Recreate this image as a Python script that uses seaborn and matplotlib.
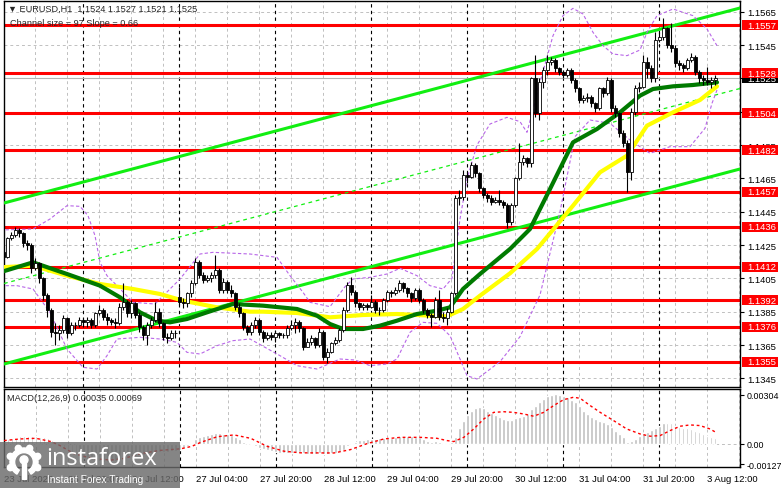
import numpy as np
import pandas as pd
import seaborn as sns
import matplotlib.pyplot as plt
from matplotlib.patches import Rectangle, Circle, Wedge
from matplotlib.transforms import blended_transform_factory

sns.set_style("white")
plt.rcParams["font.family"] = ["Liberation Sans", "DejaVu Sans"]

# EURUSD H1 bars, bar 0 = 23 Jul 04:00, bar 44 = Monday 27 Jul 00:00 (gap open)
first_open = 1.1421
monday_open = 1.1394
closes = [1.1418, 1.1429, 1.1431, 1.1434, 1.1432, 1.1426, 1.1425, 1.1411, 1.1414, 1.1405,
          1.1395, 1.1386, 1.1373, 1.1372, 1.1374, 1.1381, 1.1372, 1.1377, 1.1377, 1.1380,
          1.1379, 1.1380, 1.1377, 1.1384, 1.1386, 1.1382, 1.1380, 1.1379, 1.1378, 1.1388,
          1.1391, 1.1384, 1.1390, 1.1383, 1.1376, 1.1371, 1.1377, 1.1380, 1.1385, 1.1378,
          1.1370, 1.1369, 1.1372, 1.1372, 1.1391, 1.1390, 1.1396, 1.1402, 1.1415, 1.1407,
          1.1404, 1.1405, 1.1407, 1.1410, 1.1398, 1.1403, 1.1398, 1.1396, 1.1388, 1.1384,
          1.1376, 1.1373, 1.1377, 1.1380, 1.1373, 1.1369, 1.1371, 1.1370, 1.1372, 1.1371,
          1.1371, 1.1375, 1.1377, 1.1379, 1.1375, 1.1364, 1.1367, 1.1369, 1.1365, 1.1373,
          1.1358, 1.1361, 1.1366, 1.1368, 1.1374, 1.1386, 1.1401, 1.1397, 1.1390, 1.1388,
          1.1389, 1.1388, 1.1391, 1.1386, 1.1386, 1.1392, 1.1397, 1.1396, 1.1398, 1.1402,
          1.1399, 1.1396, 1.1393, 1.1398, 1.1392, 1.1386, 1.1383, 1.1382, 1.1392, 1.1382,
          1.1381, 1.1385, 1.1396, 1.1453, 1.1454, 1.1467, 1.1466, 1.1473, 1.1468, 1.1459,
          1.1455, 1.1453, 1.1451, 1.1452, 1.1451, 1.1449, 1.1439, 1.1449, 1.1465, 1.1475,
          1.1477, 1.1474, 1.1525, 1.1504, 1.1523, 1.1530, 1.1535, 1.1536, 1.1531, 1.1529,
          1.1527, 1.1530, 1.1524, 1.1519, 1.1512, 1.1513, 1.1514, 1.1510, 1.1507, 1.1519,
          1.1516, 1.1524, 1.1507, 1.1504, 1.1492, 1.1486, 1.1469, 1.1505, 1.1519, 1.1520,
          1.1535, 1.1531, 1.1525, 1.1548, 1.1550, 1.1555, 1.1545, 1.1543, 1.1534, 1.1533,
          1.1531, 1.1536, 1.1538, 1.1529, 1.1525, 1.1524, 1.1523, 1.1524, 1.1525]
highs = [1.1423, 1.1430, 1.1433, 1.1436, 1.1435, 1.1433, 1.1428, 1.1426, 1.1417, 1.1415,
         1.1406, 1.1396, 1.1387, 1.1378, 1.1377, 1.1383, 1.1382, 1.1379, 1.1379, 1.1382,
         1.1381, 1.1382, 1.1381, 1.1385, 1.1389, 1.1387, 1.1384, 1.1381, 1.1381, 1.1390,
         1.1402, 1.1392, 1.1392, 1.1391, 1.1385, 1.1377, 1.1379, 1.1382, 1.1391, 1.1387,
         1.1379, 1.1372, 1.1374, 1.1374, 1.1400, 1.1393, 1.1397, 1.1404, 1.1417, 1.1416,
         1.1409, 1.1407, 1.1409, 1.1419, 1.1411, 1.1405, 1.1404, 1.1401, 1.1397, 1.1390,
         1.1385, 1.1377, 1.1379, 1.1382, 1.1381, 1.1374, 1.1373, 1.1373, 1.1374, 1.1373,
         1.1372, 1.1377, 1.1380, 1.1381, 1.1380, 1.1376, 1.1369, 1.1371, 1.1370, 1.1375,
         1.1374, 1.1363, 1.1367, 1.1370, 1.1375, 1.1388, 1.1403, 1.1406, 1.1398, 1.1391,
         1.1390, 1.1390, 1.1395, 1.1392, 1.1388, 1.1393, 1.1398, 1.1398, 1.1400, 1.1404,
         1.1403, 1.1400, 1.1397, 1.1399, 1.1399, 1.1393, 1.1387, 1.1384, 1.1394, 1.1398,
         1.1385, 1.1387, 1.1397, 1.1455, 1.1458, 1.1470, 1.1469, 1.1475, 1.1474, 1.1469,
         1.1460, 1.1456, 1.1455, 1.1454, 1.1458, 1.1452, 1.1450, 1.1450, 1.1466, 1.1486,
         1.1479, 1.1478, 1.1526, 1.1539, 1.1525, 1.1532, 1.1539, 1.1538, 1.1537, 1.1532,
         1.1530, 1.1531, 1.1531, 1.1525, 1.1520, 1.1515, 1.1516, 1.1515, 1.1511, 1.1520,
         1.1520, 1.1526, 1.1525, 1.1509, 1.1505, 1.1494, 1.1488, 1.1507, 1.1521, 1.1523,
         1.1539, 1.1538, 1.1533, 1.1553, 1.1553, 1.1561, 1.1556, 1.1558, 1.1545, 1.1536,
         1.1534, 1.1537, 1.1540, 1.1539, 1.1530, 1.1527, 1.1532, 1.1526, 1.1527]
lows = [1.1416, 1.1417, 1.1428, 1.1430, 1.1430, 1.1424, 1.1422, 1.1408, 1.1410, 1.1402,
        1.1392, 1.1382, 1.1370, 1.1365, 1.1368, 1.1372, 1.1369, 1.1371, 1.1374, 1.1376,
        1.1376, 1.1376, 1.1375, 1.1376, 1.1383, 1.1380, 1.1377, 1.1377, 1.1375, 1.1377,
        1.1386, 1.1382, 1.1381, 1.1381, 1.1373, 1.1368, 1.1365, 1.1375, 1.1379, 1.1376,
        1.1368, 1.1366, 1.1368, 1.1369, 1.1389, 1.1387, 1.1388, 1.1394, 1.1401, 1.1405,
        1.1402, 1.1403, 1.1403, 1.1405, 1.1396, 1.1396, 1.1396, 1.1394, 1.1386, 1.1382,
        1.1374, 1.1371, 1.1371, 1.1375, 1.1371, 1.1367, 1.1368, 1.1368, 1.1367, 1.1369,
        1.1369, 1.1369, 1.1374, 1.1372, 1.1373, 1.1362, 1.1364, 1.1365, 1.1363, 1.1364,
        1.1356, 1.1354, 1.1360, 1.1365, 1.1367, 1.1373, 1.1385, 1.1395, 1.1388, 1.1386,
        1.1386, 1.1386, 1.1387, 1.1384, 1.1383, 1.1385, 1.1391, 1.1394, 1.1395, 1.1397,
        1.1397, 1.1394, 1.1391, 1.1392, 1.1390, 1.1384, 1.1381, 1.1376, 1.1381, 1.1380,
        1.1379, 1.1377, 1.1384, 1.1395, 1.1449, 1.1452, 1.1462, 1.1465, 1.1466, 1.1457,
        1.1453, 1.1451, 1.1449, 1.1450, 1.1449, 1.1447, 1.1435, 1.1437, 1.1448, 1.1464,
        1.1473, 1.1472, 1.1472, 1.1502, 1.1500, 1.1519, 1.1527, 1.1533, 1.1529, 1.1527,
        1.1525, 1.1526, 1.1522, 1.1517, 1.1510, 1.1510, 1.1511, 1.1508, 1.1505, 1.1506,
        1.1514, 1.1515, 1.1505, 1.1502, 1.1490, 1.1484, 1.1457, 1.1464, 1.1503, 1.1517,
        1.1519, 1.1525, 1.1523, 1.1523, 1.1547, 1.1548, 1.1543, 1.1541, 1.1532, 1.1530,
        1.1529, 1.1530, 1.1535, 1.1527, 1.1522, 1.1521, 1.1521, 1.1519, 1.1521]

# horizontal levels drawn on the chart
levels = [1.1557, 1.1528, 1.1504, 1.1482, 1.1457, 1.1436, 1.1412, 1.1392, 1.1376, 1.1355]
bid = 1.1525
price_ticks = [1.1345, 1.1365, 1.1385, 1.1405, 1.1425, 1.1445, 1.1465, 1.1485, 1.1505, 1.1525, 1.1545, 1.1565]

# regression channel (upper / middle / lower), from left edge to right edge
channel_x = [0.25, 184.25]
channel_up = [1.14502, 1.15672]
channel_mid = [1.14019, 1.15189]
channel_low = [1.13536, 1.14706]

# moving averages
green_x = [-0.75, 7.5, 16, 24.25, 29.25, 34.25, 38.5, 41.75, 46, 51, 57.5, 65, 73.5, 78.5, 81.75,
           85, 90, 94.25, 98.5, 103.5, 108.5, 111.75, 115, 119.25, 126.75, 131.75, 136.75, 142.5,
           148.5, 154.25, 159.25, 162.5, 167.5, 172.5, 178.5]
green_y = [1.14086, 1.14146, 1.14076, 1.14006, 1.13936, 1.13846, 1.13796, 1.13786, 1.13806, 1.13846,
           1.13896, 1.13886, 1.13866, 1.13826, 1.13776, 1.13746, 1.13746, 1.13766, 1.13796, 1.13836,
           1.13856, 1.13876, 1.13986, 1.14076, 1.14226, 1.14346, 1.14586, 1.14866, 1.14946, 1.15046,
           1.15146, 1.15186, 1.15202, 1.15210, 1.15226]
yellow_x = [-0.75, 7.5, 16, 24.25, 32.5, 39.25, 45, 53.5, 61.75, 65, 73.5, 81.75, 90, 98.5, 106.75,
            111, 115, 119.25, 126.75, 133.5, 142.5, 149.25, 156, 161, 167.5, 174.25, 178.5]
yellow_y = [1.14116, 1.14126, 1.14066, 1.14016, 1.13986, 1.13956, 1.13916, 1.13876, 1.13850, 1.13850,
            1.13842, 1.13816, 1.13830, 1.13836, 1.13826, 1.13822, 1.13866, 1.13946, 1.14080, 1.14226,
            1.14486, 1.14686, 1.14786, 1.14966, 1.15046, 1.15120, 1.15202]

# bollinger bands
bb_up_x = [-0.75, 7.5, 11.75, 16, 19.25, 21.25, 23, 24.25, 26, 28.5, 32.5, 38, 44.25, 49.25, 52.5,
           61.75, 68.5, 71.75, 75, 76.75, 81.75, 85.5, 87.5, 91.75, 96, 99.25, 103.5, 106.75, 110,
           112.25, 114.25, 116, 118.5, 121.75, 126, 129.25, 131, 134.25, 137.5, 140, 142.5, 145,
           147.5, 150, 152.5, 156, 159.25, 161, 163.5, 167.5, 172.5, 176, 178.5]
bb_up_y = [1.14340, 1.14346, 1.14406, 1.14486, 1.14482, 1.14426, 1.14306, 1.14146, 1.14066, 1.14006,
           1.13906, 1.13896, 1.14046, 1.14196, 1.14206, 1.14196, 1.14176, 1.14066, 1.13966, 1.13906,
           1.13880, 1.14000, 1.14046, 1.14056, 1.14076, 1.14110, 1.14066, 1.14006, 1.13986, 1.14050,
           1.14406, 1.14646, 1.14850, 1.14976, 1.15016, 1.14990, 1.14926, 1.15226, 1.15506, 1.15626,
           1.15670, 1.15636, 1.15526, 1.15446, 1.15396, 1.15386, 1.15420, 1.15526, 1.15626, 1.15666,
           1.15626, 1.15546, 1.15446]
bb_low_x = [-0.75, 3.5, 7.5, 11.75, 16, 20, 23.5, 26, 28.5, 34.25, 39.25, 43.5, 46, 49.25, 53.5,
            57.5, 61.75, 69.25, 73.5, 78.5, 84.25, 88, 91.75, 96, 98.5, 101.75, 105, 108.5, 111.75,
            114.25, 116, 118.5, 124.25, 129.25, 134.25, 139.25, 143, 146.75, 151.75, 156.75, 161.75,
            166.75, 171.75, 175.5, 177.25, 178.5]
bb_low_y = [1.14006, 1.14006, 1.13986, 1.13846, 1.13626, 1.13516, 1.13506, 1.13586, 1.13686, 1.13696,
            1.13686, 1.13666, 1.13606, 1.13596, 1.13646, 1.13676, 1.13686, 1.13586, 1.13526, 1.13506,
            1.13566, 1.13560, 1.13526, 1.13536, 1.13566, 1.13726, 1.13786, 1.13780, 1.13706, 1.13566,
            1.13466, 1.13446, 1.13550, 1.13700, 1.13950, 1.14450, 1.14900, 1.15000, 1.14980, 1.14880,
            1.14800, 1.14840, 1.14840, 1.14950, 1.15100, 1.15180]

# MACD(12,26,9) histogram (one per bar) and signal line
macd_hist = [0.00031, 0.00031, 0.00035, 0.00040, 0.00048, 0.00052, 0.00052, 0.00050, 0.00048, 0.00045,
             0.00041, 0.00036, 0.00026, 0.00012, -0.00005, -0.00022, -0.00038, -0.00052, -0.00065, -0.00076,
             -0.00085, -0.00093, -0.00099, -0.00104, -0.00107, -0.00110, -0.00110, -0.00108, -0.00104, -0.00098,
             -0.00090, -0.00084, -0.00078, -0.00073, -0.00070, -0.00068, -0.00065, -0.00060, -0.00055, -0.00052,
             -0.00050, -0.00048, -0.00045, -0.00042, -0.00035, -0.00025, -0.00012, 0.00005, 0.00030, 0.00045,
             0.00050, 0.00055, 0.00060, 0.00066, 0.00066, 0.00064, 0.00060, 0.00054, 0.00042, 0.00030,
             0.00015, 0.00002, -0.00006, -0.00014, -0.00022, -0.00030, -0.00038, -0.00045, -0.00050, -0.00054,
             -0.00056, -0.00056, -0.00055, -0.00054, -0.00052, -0.00058, -0.00060, -0.00060, -0.00061, -0.00058,
             -0.00062, -0.00062, -0.00058, -0.00054, -0.00048, -0.00036, -0.00014, 0.00004, 0.00015, 0.00022,
             0.00027, 0.00030, 0.00033, 0.00033, 0.00035, 0.00036, 0.00038, 0.00040, 0.00045, 0.00050,
             0.00050, 0.00048, 0.00047, 0.00045, 0.00041, 0.00031, 0.00021, 0.00014, 0.00018, 0.00010,
             0.00006, 0.00006, 0.00012, 0.00041, 0.00097, 0.00145, 0.00180, 0.00207, 0.00221, 0.00227,
             0.00221, 0.00207, 0.00193, 0.00180, 0.00165, 0.00155, 0.00149, 0.00151, 0.00159, 0.00165,
             0.00176, 0.00186, 0.00217, 0.00238, 0.00258, 0.00279, 0.00296, 0.00306, 0.00310, 0.00306,
             0.00300, 0.00289, 0.00275, 0.00258, 0.00238, 0.00207, 0.00186, 0.00165, 0.00155, 0.00145,
             0.00139, 0.00124, 0.00103, 0.00083, 0.00062, 0.00041, 0.00014, 0.00021, 0.00031, 0.00052,
             0.00069, 0.00076, 0.00089, 0.00097, 0.00114, 0.00128, 0.00132, 0.00128, 0.00114, 0.00107,
             0.00100, 0.00097, 0.00093, 0.00083, 0.00072, 0.00062, 0.00052, 0.00041, 0.00035]
signal_x = [0, 4, 8, 11.75, 14, 17.5, 22, 26.75, 30, 34.25, 39, 44.25, 47, 49.25, 53.4, 57.6, 61.75,
            65.9, 70.1, 74.25, 82.6, 86.75, 90.9, 95.1, 99.25, 104.25, 108.4, 110.9, 112.6, 115.1,
            117.6, 120.1, 122.6, 125.1, 127.6, 130.1, 132.6, 135.1, 137.6, 140.1, 142.6, 144.25,
            146.75, 149.25, 152.6, 155.9, 159.25, 161.75, 164.25, 166.75, 169.25, 171.75, 174.25,
            176.75, 178]
signal_y = [0.00021, 0.00031, 0.00035, 0.00015, -0.00010, -0.00060, -0.00090, -0.00100, -0.00090, -0.00060,
            -0.00040, -0.00030, -0.00015, 0.00010, 0.00045, 0.00056, 0.00035, -0.00015, -0.00045, -0.00055,
            -0.00056, -0.00035, 0.00002, 0.00031, 0.00041, 0.00041, 0.00035, 0.00021, 0.00015, 0.00041,
            0.00093, 0.00155, 0.00196, 0.00200, 0.00196, 0.00186, 0.00172, 0.00196, 0.00238, 0.00275,
            0.00290, 0.00283, 0.00238, 0.00196, 0.00145, 0.00093, 0.00062, 0.00048, 0.00052, 0.00083,
            0.00110, 0.00118, 0.00114, 0.00093, 0.00075]
macd_ticks = [-0.00127, 0.0, 0.00304]
macd_tick_labels = ["-0.00127", "0.00", "0.00304"]

# time axis
date_pos = [0, 16, 32, 48, 64, 80, 96, 112, 128, 144, 160, 176]
date_labels = ["23 Jul 2026", "23 Jul 20:00", "24 Jul 12:00", "27 Jul 04:00", "27 Jul 20:00",
               "28 Jul 12:00", "29 Jul 04:00", "29 Jul 20:00", "30 Jul 12:00", "31 Jul 04:00",
               "31 Jul 20:00", "3 Aug 12:00"]
day_starts = [20, 44, 68, 92, 116, 140, 164]

df = pd.DataFrame({"close": closes, "high": highs, "low": lows})
df["open"] = [first_open] + closes[:-1]
df.loc[44, "open"] = monday_open
df["bar"] = np.arange(len(df))

W, H = 781, 489
def fig_box(l, t, r, b):
    return [l / W, 1 - b / H, (r - l) / W, (b - t) / H]

fig = plt.figure(figsize=(W / 100, H / 100), dpi=100)
ax = fig.add_axes(fig_box(4, 2, 740, 388))
axm = fig.add_axes(fig_box(4, 390, 740, 468))
XL = (0.25, 184.25)

grid_kw = dict(color="#c0c0c0", lw=0.7, ls=(0, (3, 3)), zorder=0.5)
sep_kw = dict(color="black", lw=0.8, ls=(0, (3, 3)), zorder=0.6)
for a in (ax, axm):
    for g in range(0, 185, 8):
        a.axvline(g, **grid_kw)
    for d in day_starts:
        a.axvline(d, **sep_kw)
for p in price_ticks:
    ax.axhline(p, **grid_kw)
axm.axhline(0, **grid_kw)

# levels and bid line
ax.axhline(bid, color="#b4b4b4", lw=0.8, zorder=1.5)
for lv in levels:
    ax.axhline(lv, color="#ff0000", lw=2.2, zorder=2)

# channel
sns.lineplot(x=channel_x, y=channel_up, ax=ax, color="#11ee11", lw=2.2, zorder=3)
sns.lineplot(x=channel_x, y=channel_low, ax=ax, color="#11ee11", lw=2.2, zorder=3)
sns.lineplot(x=channel_x, y=channel_mid, ax=ax, color="#11ee11", lw=0.9, ls=(0, (3, 3)), zorder=3)

# bands and averages
bb_kw = dict(color="#b866e8", lw=0.8, ls=(0, (3, 2)), zorder=3)
sns.lineplot(x=bb_up_x, y=bb_up_y, ax=ax, **bb_kw)
sns.lineplot(x=bb_low_x, y=bb_low_y, ax=ax, **bb_kw)
sns.lineplot(x=yellow_x, y=yellow_y, ax=ax, color="#ffff00", lw=3, zorder=3.5)
sns.lineplot(x=green_x, y=green_y, ax=ax, color="#007a00", lw=3, zorder=3.6)

# candles
up = df["close"] >= df["open"]
body_lo = np.minimum(df["open"], df["close"])
body_h = np.maximum((df["close"] - df["open"]).abs(), 0.00002)
ax.vlines(df["bar"], df["low"], df["high"], color="black", lw=0.8, zorder=4)
ax.bar(df["bar"], body_h, bottom=body_lo, width=0.75,
       color=np.where(up, "white", "black"), edgecolor="black", linewidth=0.6, zorder=5)

ax.set_xlim(*XL)
ax.set_ylim(1.13398, 1.15714)
ax.yaxis.tick_right()
ax.set_yticks(price_ticks, [f"{p:.4f}" for p in price_ticks])
ax.tick_params(axis="y", labelsize=6.8, length=3, width=0.8, pad=2, colors="black")
ax.set_xticks([])
ax.set_xlabel("")
ax.set_ylabel("")

# price boxes on the right
tr = blended_transform_factory(ax.transAxes, ax.transData)
bx0, bx1 = (742 - 4) / 736, (778 - 4) / 736
hh = 0.0003
ax.add_patch(Rectangle((bx0, bid - hh), bx1 - bx0, 2 * hh, transform=tr,
                       fc="black", ec="none", clip_on=False, zorder=6))
ax.text((747 - 4) / 736, bid, f"{bid:.4f}", transform=tr, color="white", fontsize=6.8,
        va="center", ha="left", clip_on=False, zorder=7)
for lv in levels:
    ax.add_patch(Rectangle((bx0, lv - hh), bx1 - bx0, 2 * hh, transform=tr,
                           fc="#ff0000", ec="none", clip_on=False, zorder=8))
    ax.text((747 - 4) / 736, lv, f"{lv:.4f}", transform=tr, color="white", fontsize=6.8,
            va="center", ha="left", clip_on=False, zorder=9)

# MACD panel
axm.bar(df["bar"], macd_hist, width=0.7, color="#c0c0c0", zorder=2)
sns.lineplot(x=signal_x, y=signal_y, ax=axm, color="#ff0000", lw=1, ls=(0, (2, 2)), zorder=3)
axm.set_xlim(*XL)
axm.set_ylim(-0.00143, 0.00341)
axm.yaxis.tick_right()
axm.set_yticks(macd_ticks, macd_tick_labels)
axm.set_xticks(date_pos, date_labels, ha="left")
axm.tick_params(axis="x", labelsize=6.8, length=3, width=0.8, pad=2, colors="black")
axm.tick_params(axis="y", labelsize=6.4, length=3, width=0.8, pad=1.5, colors="black")
axm.set_xlabel("")
axm.set_ylabel("")

for a in (ax, axm):
    for s in a.spines.values():
        s.set_color("black")
        s.set_linewidth(1)

fig.text(8 / W, 1 - 9 / H, "\u25bc EURUSD,H1  1.1524 1.1527 1.1521 1.1525",
         fontsize=6.6, va="center", ha="left", zorder=10)
fig.text(10 / W, 1 - 23 / H, "Channel size = 97 Slope = 0.66",
         fontsize=6.6, va="center", ha="left", zorder=10)
fig.text(7 / W, 1 - 399 / H, "MACD(12,26,9) 0.00035 0.00069",
         fontsize=6.6, va="center", ha="left", zorder=10)

# watermark
fig.add_artist(Rectangle((0, 0), 180 / W, 46 / H, transform=fig.transFigure,
                         fc="#6a6a6a", ec="none", alpha=0.82, zorder=20))
fig.text(46 / W, 1 - 459 / H, "instaforex", color="white", fontsize=17,
         family="Open Sans", va="center", ha="left", zorder=21)
fig.text(47 / W, 1 - 480 / H, "Instant Forex Trading", color="white", fontsize=7.3,
         va="center", ha="left", zorder=21)
lg = fig.add_axes(fig_box(6, 445, 42, 481))
lg.set_zorder(22)
lg.set_xlim(-1, 1)
lg.set_ylim(-1, 1)
lg.set_aspect("equal")
lg.axis("off")
lg.patch.set_alpha(0)
lg.add_patch(Wedge((0, 0), 0.78, 300, 240, width=0.26, color="white"))
for k in range(8):
    t = np.deg2rad(22.5 + 45 * k)
    if k in (5, 6):
        continue
    lg.add_patch(Circle((0.82 * np.cos(t), 0.82 * np.sin(t)), 0.17, color="white"))
lg.add_patch(Circle((0, 0.12), 0.22, color="white"))
lg.add_patch(Rectangle((-0.12, -0.95), 0.24, 0.9, color="white"))

fig.savefig("out.png", dpi=100)
